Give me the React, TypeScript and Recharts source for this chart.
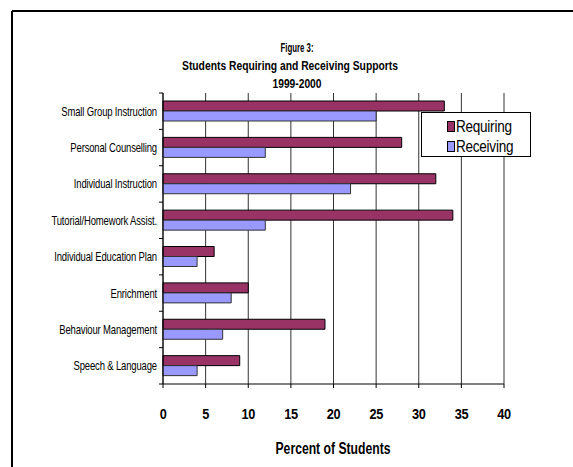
import { BarChart, Bar, XAxis, YAxis, CartesianGrid, Legend } from "recharts";

const categories = [
    "Small Group Instruction",
    "Personal Counselling",
    "Individual Instruction",
    "Tutorial/Homework Assist.",
    "Individual Education Plan",
    "Enrichment",
    "Behaviour Management",
    "Speech & Language",
];
const requiring = [33, 28, 32, 34, 6, 10, 19, 9];
const receiving = [25, 12, 22, 12, 4, 8, 7, 4];
const xTicks = [0, 5, 10, 15, 20, 25, 30, 35, 40];

const W = 573;
const H = 467;
const MARGIN = { top: 93, right: 69, bottom: 53, left: 0 };
const Y_AXIS_W = 163;
const X_AXIS_H = 30;
const PLOT_H = H - MARGIN.top - MARGIN.bottom - X_AXIS_H;
const BAND = PLOT_H / categories.length;

const SANS = 'Arial, "Liberation Sans", sans-serif';

const data = categories.map((name, i) => ({
    name,
    requiring: requiring[i],
    receiving: receiving[i],
}));

// the original uses a squeezed Arial, so glyphs are scaled horizontally
function CategoryTick(props: any) {
    const { y, payload, index } = props;
    const ax = MARGIN.left + Y_AXIS_W;
    const last = index === categories.length - 1;
    return (
        <g>
            <line x1={ax - 4} x2={ax} y1={y - BAND / 2} y2={y - BAND / 2} stroke="#000" />
            {last && <line x1={ax - 4} x2={ax} y1={y + BAND / 2} y2={y + BAND / 2} stroke="#000" />}
            <text
                transform={`translate(${ax - 6},${y}) scale(0.76,1)`}
                dy="0.36em"
                textAnchor="end"
                fontFamily={SANS}
                fontSize={12.5}
                letterSpacing={-0.2}
                fill="#000"
            >
                {payload.value}
            </text>
        </g>
    );
}

function XTick(props: any) {
    const { x, y, payload } = props;
    return (
        <text
            transform={`translate(${x},${y}) scale(0.85,1)`}
            dy="0.71em"
            textAnchor="middle"
            fontFamily={SANS}
            fontWeight={700}
            fontSize={15}
            letterSpacing={-0.5}
            fill="#000"
        >
            {payload.value}
        </text>
    );
}

function LegendBox() {
    const items = [
        { label: "Requiring", color: "#993366" },
        { label: "Receiving", color: "#9999FF" },
    ];
    return (
        <div style={{ paddingTop: 3 }}>
            {items.map((it) => (
                <div key={it.label} style={{ display: "flex", alignItems: "center", height: 20, paddingLeft: 25 }}>
                    <span style={{ width: 6, height: 9, background: it.color, border: "1px solid #000", marginRight: 1, flex: "none" }} />
                    <span
                        style={{
                            fontFamily: SANS,
                            fontSize: 16.5,
                            letterSpacing: -0.3,
                            color: "#000",
                            display: "inline-block",
                            transform: "scaleX(0.82)",
                            transformOrigin: "left center",
                            whiteSpace: "nowrap",
                        }}
                    >
                        {it.label}
                    </span>
                </div>
            ))}
        </div>
    );
}

export default function App() {
    return (
        <div style={{ position: "absolute", left: 0, top: 0, width: W, height: H, background: "#fff" }}>
            <BarChart
                width={W}
                height={H}
                data={data}
                layout="vertical"
                margin={MARGIN}
                barCategoryGap="22%"
                barGap={0}
            >
                <CartesianGrid horizontal={false} vertical stroke="#333" strokeWidth={1} />
                <XAxis
                    type="number"
                    domain={[0, 40]}
                    ticks={xTicks}
                    interval={0}
                    height={X_AXIS_H}
                    stroke="#000"
                    tickSize={4}
                    tickMargin={20}
                    tick={<XTick />}
                />
                <YAxis
                    type="category"
                    dataKey="name"
                    width={Y_AXIS_W}
                    stroke="#000"
                    tickLine={false}
                    interval={0}
                    tick={<CategoryTick />}
                />
                <Legend
                    layout="vertical"
                    align="center"
                    verticalAlign="middle"
                    content={<LegendBox />}
                    wrapperStyle={{
                        left: 421,
                        top: 112,
                        width: 108,
                        height: 43,
                        border: "1px solid #000",
                        background: "#fff",
                    }}
                />
                <Bar dataKey="requiring" name="Requiring" fill="#993366" stroke="#000" strokeWidth={1} isAnimationActive={false} />
                <Bar dataKey="receiving" name="Receiving" fill="#9999FF" stroke="#333" strokeWidth={1} isAnimationActive={false} />
            </BarChart>
            <svg width={W} height={H} style={{ position: "absolute", left: 0, top: 0, pointerEvents: "none" }}>
                <line x1={12} x2={W} y1={11} y2={11} stroke="#000" strokeWidth={2} />
                <line x1={12} x2={12} y1={11} y2={H} stroke="#000" strokeWidth={2} />
                <g fontFamily={SANS} fontWeight={700} fontSize={12} fill="#000" textAnchor="middle">
                    <text x={297} y={52} textLength={33} lengthAdjust="spacingAndGlyphs">Figure 3:</text>
                    <text x={290} y={70} textLength={216} lengthAdjust="spacingAndGlyphs">Students Requiring and Receiving Supports</text>
                    <text x={297} y={88} textLength={49} lengthAdjust="spacingAndGlyphs">1999-2000</text>
                </g>
                <text x={333} y={454} textAnchor="middle" fontFamily={SANS} fontWeight={700} fontSize={16} textLength={115} lengthAdjust="spacingAndGlyphs" fill="#000">
                    Percent of Students
                </text>
            </svg>
        </div>
    );
}
